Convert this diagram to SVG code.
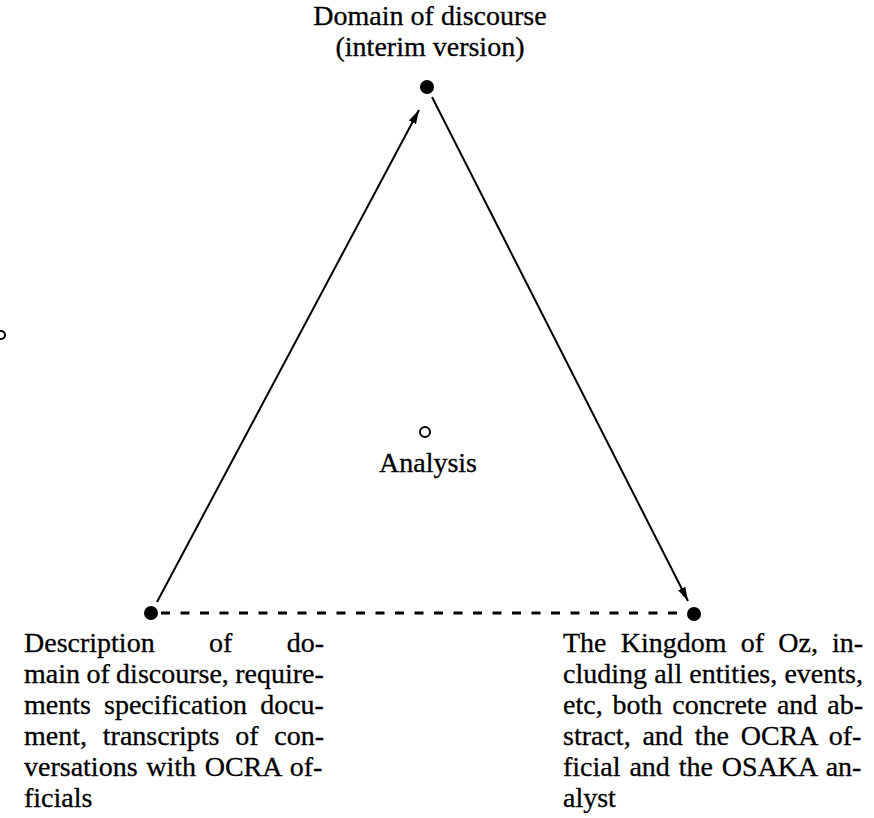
<svg xmlns="http://www.w3.org/2000/svg" width="874" height="818" viewBox="0 0 874 818">
  <style>
    text { font-family: "Liberation Serif", "DejaVu Serif", serif; font-size: 28px; fill: #000; stroke: #000; stroke-width: 0.3; }
    .dot { fill: #000; }
    .ring { fill: none; stroke: #000; stroke-width: 2; }
    .edge { stroke: #000; stroke-width: 2; fill: none; }
    .dash { stroke: #000; stroke-width: 3; fill: none; stroke-dasharray: 9 10.5; }
  </style>
  <defs>
    <marker id="arrow" viewBox="0 0 14 10" refX="14" refY="5" markerWidth="14" markerHeight="10" markerUnits="userSpaceOnUse" orient="auto">
      <path d="M0,1 L14,5 L0,9 z" fill="#000"/>
    </marker>
  </defs>
  <rect width="874" height="818" fill="#fff"/>

  <!-- connectors -->
  <g id="connectors">
    <line class="edge" x1="157" y1="602" x2="419" y2="110" marker-end="url(#arrow)"/>
    <line class="edge" x1="432" y1="97" x2="688" y2="601" marker-end="url(#arrow)"/>
    <line class="dash" x1="161" y1="613" x2="686" y2="613"/>
  </g>

  <!-- top node -->
  <g id="domain">
    <circle class="dot" cx="427" cy="87" r="7"/>
    <text x="430" y="25" text-anchor="middle">Domain of discourse</text>
    <text x="430" y="56" text-anchor="middle">(interim version)</text>
  </g>

  <!-- centre label -->
  <g id="analysis">
    <circle class="ring" cx="425" cy="432" r="5"/>
    <text x="428" y="472" text-anchor="middle">Analysis</text>
  </g>

  <!-- small ring at the left margin -->
  <g id="edge-mark">
    <circle class="ring" cx="1" cy="335" r="4"/>
  </g>

  <!-- bottom left node: justified paragraph, 300px wide -->
  <g id="description">
    <circle class="dot" cx="151" cy="613" r="7"/>
    <text x="24" y="652" word-spacing="47.4">Description of do-</text>
    <text x="24" y="683" word-spacing="-0.6">main of discourse, require-</text>
    <text x="24" y="714" word-spacing="6.1">ments specification docu-</text>
    <text x="24" y="745" word-spacing="8.8">ment, transcripts of con-</text>
    <text x="24" y="776" word-spacing="1.7">versations with OCRA of-</text>
    <text x="24" y="807">ficials</text>
  </g>

  <!-- bottom right node: justified paragraph, 300px wide -->
  <g id="kingdom">
    <circle class="dot" cx="694" cy="614" r="7"/>
    <text x="563" y="652" word-spacing="7.2">The Kingdom of Oz, in-</text>
    <text x="563" y="683" word-spacing="0.2">cluding all entities, events,</text>
    <text x="563" y="714" word-spacing="2.9">etc, both concrete and ab-</text>
    <text x="563" y="745" word-spacing="4.8">stract, and the OCRA of-</text>
    <text x="563" y="776" word-spacing="1.9">ficial and the OSAKA an-</text>
    <text x="563" y="807">alyst</text>
  </g>
</svg>
